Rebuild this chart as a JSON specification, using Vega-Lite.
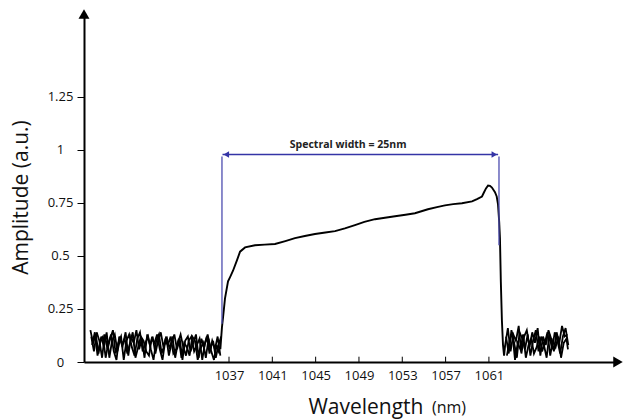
{
  "$schema": "https://vega.github.io/schema/vega-lite/v6.json",
  "width": 534,
  "height": 348,
  "autosize": {"type": "none"},
  "padding": {"left": 84, "top": 14, "right": 6, "bottom": 57},
  "background": "white",
  "config": {"view": {"stroke": null}, "font": "Open Sans"},
  "datasets": {
    "noise": [
      {"x":1024.2,"y":0.15,"t":"a"},{"x":1024.45,"y":0.09,"t":"a"},{"x":1024.7,"y":0.13,"t":"a"},{"x":1024.95,"y":0.04,"t":"a"},{"x":1025.2,"y":0.12,"t":"a"},{"x":1025.45,"y":0.07,"t":"a"},{"x":1025.7,"y":0.14,"t":"a"},{"x":1025.95,"y":0.02,"t":"a"},{"x":1026.2,"y":0.10,"t":"a"},{"x":1026.45,"y":0.13,"t":"a"},{"x":1026.7,"y":0.05,"t":"a"},{"x":1026.95,"y":0.11,"t":"a"},{"x":1027.2,"y":0.08,"t":"a"},{"x":1027.45,"y":0.14,"t":"a"},{"x":1027.7,"y":0.03,"t":"a"},{"x":1027.95,"y":0.12,"t":"a"},{"x":1028.2,"y":0.09,"t":"a"},{"x":1028.45,"y":0.15,"t":"a"},{"x":1028.7,"y":0.06,"t":"a"},{"x":1028.95,"y":0.11,"t":"a"},{"x":1029.2,"y":0.02,"t":"a"},{"x":1029.45,"y":0.13,"t":"a"},{"x":1029.7,"y":0.08,"t":"a"},{"x":1029.95,"y":0.12,"t":"a"},{"x":1030.2,"y":0.04,"t":"a"},{"x":1030.45,"y":0.10,"t":"a"},{"x":1030.7,"y":0.14,"t":"a"},{"x":1030.95,"y":0.07,"t":"a"},{"x":1031.2,"y":0.12,"t":"a"},{"x":1031.45,"y":0.03,"t":"a"},{"x":1031.7,"y":0.09,"t":"a"},{"x":1031.95,"y":0.13,"t":"a"},{"x":1032.2,"y":0.06,"t":"a"},{"x":1032.45,"y":0.11,"t":"a"},{"x":1032.7,"y":0.01,"t":"a"},{"x":1032.95,"y":0.10,"t":"a"},{"x":1033.2,"y":0.12,"t":"a"},{"x":1033.45,"y":0.05,"t":"a"},{"x":1033.7,"y":0.09,"t":"a"},{"x":1033.95,"y":0.13,"t":"a"},{"x":1034.2,"y":0.02,"t":"a"},{"x":1034.45,"y":0.11,"t":"a"},{"x":1034.7,"y":0.07,"t":"a"},{"x":1034.95,"y":0.12,"t":"a"},{"x":1035.2,"y":0.04,"t":"a"},{"x":1035.45,"y":0.10,"t":"a"},{"x":1035.7,"y":0.06,"t":"a"},{"x":1035.95,"y":0.12,"t":"a"},{"x":1036.2,"y":0.03,"t":"a"},
      {"x":1024.28,"y":0.12,"t":"b"},{"x":1024.53,"y":0.05,"t":"b"},{"x":1024.78,"y":0.14,"t":"b"},{"x":1025.03,"y":0.10,"t":"b"},{"x":1025.28,"y":0.02,"t":"b"},{"x":1025.53,"y":0.13,"t":"b"},{"x":1025.78,"y":0.06,"t":"b"},{"x":1026.03,"y":0.11,"t":"b"},{"x":1026.28,"y":0.15,"t":"b"},{"x":1026.53,"y":0.04,"t":"b"},{"x":1026.78,"y":0.09,"t":"b"},{"x":1027.03,"y":0.12,"t":"b"},{"x":1027.28,"y":0.01,"t":"b"},{"x":1027.53,"y":0.10,"t":"b"},{"x":1027.78,"y":0.13,"t":"b"},{"x":1028.03,"y":0.07,"t":"b"},{"x":1028.28,"y":0.03,"t":"b"},{"x":1028.53,"y":0.11,"t":"b"},{"x":1028.78,"y":0.14,"t":"b"},{"x":1029.03,"y":0.05,"t":"b"},{"x":1029.28,"y":0.09,"t":"b"},{"x":1029.53,"y":0.12,"t":"b"},{"x":1029.78,"y":0.06,"t":"b"},{"x":1030.03,"y":0.01,"t":"b"},{"x":1030.28,"y":0.10,"t":"b"},{"x":1030.53,"y":0.13,"t":"b"},{"x":1030.78,"y":0.04,"t":"b"},{"x":1031.03,"y":0.08,"t":"b"},{"x":1031.28,"y":0.11,"t":"b"},{"x":1031.53,"y":0.06,"t":"b"},{"x":1031.78,"y":0.12,"t":"b"},{"x":1032.03,"y":0.02,"t":"b"},{"x":1032.28,"y":0.09,"t":"b"},{"x":1032.53,"y":0.13,"t":"b"},{"x":1032.78,"y":0.07,"t":"b"},{"x":1033.03,"y":0.03,"t":"b"},{"x":1033.28,"y":0.10,"t":"b"},{"x":1033.53,"y":0.12,"t":"b"},{"x":1033.78,"y":0.05,"t":"b"},{"x":1034.03,"y":0.08,"t":"b"},{"x":1034.28,"y":0.11,"t":"b"},{"x":1034.53,"y":0.01,"t":"b"},{"x":1034.78,"y":0.09,"t":"b"},{"x":1035.03,"y":0.13,"t":"b"},{"x":1035.28,"y":0.06,"t":"b"},{"x":1035.53,"y":0.10,"t":"b"},{"x":1035.78,"y":0.02,"t":"b"},{"x":1036.03,"y":0.08,"t":"b"},{"x":1036.28,"y":0.12,"t":"b"},
      {"x":1024.36,"y":0.08,"t":"c"},{"x":1024.61,"y":0.14,"t":"c"},{"x":1024.86,"y":0.03,"t":"c"},{"x":1025.11,"y":0.10,"t":"c"},{"x":1025.36,"y":0.12,"t":"c"},{"x":1025.61,"y":0.02,"t":"c"},{"x":1025.86,"y":0.09,"t":"c"},{"x":1026.11,"y":0.13,"t":"c"},{"x":1026.36,"y":0.05,"t":"c"},{"x":1026.61,"y":0.01,"t":"c"},{"x":1026.86,"y":0.12,"t":"c"},{"x":1027.11,"y":0.08,"t":"c"},{"x":1027.36,"y":0.11,"t":"c"},{"x":1027.61,"y":0.04,"t":"c"},{"x":1027.86,"y":0.09,"t":"c"},{"x":1028.11,"y":0.14,"t":"c"},{"x":1028.36,"y":0.02,"t":"c"},{"x":1028.61,"y":0.07,"t":"c"},{"x":1028.86,"y":0.12,"t":"c"},{"x":1029.11,"y":0.10,"t":"c"},{"x":1029.36,"y":0.05,"t":"c"},{"x":1029.61,"y":0.03,"t":"c"},{"x":1029.86,"y":0.11,"t":"c"},{"x":1030.11,"y":0.09,"t":"c"},{"x":1030.36,"y":0.13,"t":"c"},{"x":1030.61,"y":0.06,"t":"c"},{"x":1030.86,"y":0.01,"t":"c"},{"x":1031.11,"y":0.10,"t":"c"},{"x":1031.36,"y":0.08,"t":"c"},{"x":1031.61,"y":0.12,"t":"c"},{"x":1031.86,"y":0.04,"t":"c"},{"x":1032.11,"y":0.06,"t":"c"},{"x":1032.36,"y":0.11,"t":"c"},{"x":1032.61,"y":0.02,"t":"c"},{"x":1032.86,"y":0.09,"t":"c"},{"x":1033.11,"y":0.07,"t":"c"},{"x":1033.36,"y":0.03,"t":"c"},{"x":1033.61,"y":0.12,"t":"c"},{"x":1033.86,"y":0.10,"t":"c"},{"x":1034.11,"y":0.01,"t":"c"},{"x":1034.36,"y":0.06,"t":"c"},{"x":1034.61,"y":0.09,"t":"c"},{"x":1034.86,"y":0.02,"t":"c"},{"x":1035.11,"y":0.11,"t":"c"},{"x":1035.36,"y":0.05,"t":"c"},{"x":1035.61,"y":0.01,"t":"c"},{"x":1035.86,"y":0.08,"t":"c"},{"x":1036.11,"y":0.04,"t":"c"},
      {"x":1062.5,"y":0.08,"t":"ra"},{"x":1062.75,"y":0.16,"t":"ra"},{"x":1063.0,"y":0.05,"t":"ra"},{"x":1063.25,"y":0.13,"t":"ra"},{"x":1063.5,"y":0.10,"t":"ra"},{"x":1063.75,"y":0.17,"t":"ra"},{"x":1064.0,"y":0.04,"t":"ra"},{"x":1064.25,"y":0.12,"t":"ra"},{"x":1064.5,"y":0.15,"t":"ra"},{"x":1064.75,"y":0.07,"t":"ra"},{"x":1065.0,"y":0.14,"t":"ra"},{"x":1065.25,"y":0.09,"t":"ra"},{"x":1065.5,"y":0.16,"t":"ra"},{"x":1065.75,"y":0.03,"t":"ra"},{"x":1066.0,"y":0.12,"t":"ra"},{"x":1066.25,"y":0.08,"t":"ra"},{"x":1066.5,"y":0.15,"t":"ra"},{"x":1066.75,"y":0.11,"t":"ra"},{"x":1067.0,"y":0.05,"t":"ra"},{"x":1067.25,"y":0.14,"t":"ra"},{"x":1067.5,"y":0.09,"t":"ra"},{"x":1067.75,"y":0.17,"t":"ra"},{"x":1068.0,"y":0.12,"t":"ra"},{"x":1068.25,"y":0.13,"t":"ra"},
      {"x":1062.58,"y":0.12,"t":"rb"},{"x":1062.83,"y":0.04,"t":"rb"},{"x":1063.08,"y":0.15,"t":"rb"},{"x":1063.33,"y":0.09,"t":"rb"},{"x":1063.58,"y":0.02,"t":"rb"},{"x":1063.83,"y":0.14,"t":"rb"},{"x":1064.08,"y":0.11,"t":"rb"},{"x":1064.33,"y":0.06,"t":"rb"},{"x":1064.58,"y":0.13,"t":"rb"},{"x":1064.83,"y":0.03,"t":"rb"},{"x":1065.08,"y":0.10,"t":"rb"},{"x":1065.33,"y":0.15,"t":"rb"},{"x":1065.58,"y":0.05,"t":"rb"},{"x":1065.83,"y":0.12,"t":"rb"},{"x":1066.08,"y":0.08,"t":"rb"},{"x":1066.33,"y":0.02,"t":"rb"},{"x":1066.58,"y":0.13,"t":"rb"},{"x":1066.83,"y":0.06,"t":"rb"},{"x":1067.08,"y":0.14,"t":"rb"},{"x":1067.33,"y":0.10,"t":"rb"},{"x":1067.58,"y":0.04,"t":"rb"},{"x":1067.83,"y":0.12,"t":"rb"},{"x":1068.08,"y":0.16,"t":"rb"},{"x":1068.33,"y":0.08,"t":"rb"},
      {"x":1062.66,"y":0.03,"t":"rc"},{"x":1062.91,"y":0.10,"t":"rc"},{"x":1063.16,"y":0.14,"t":"rc"},{"x":1063.41,"y":0.01,"t":"rc"},{"x":1063.66,"y":0.09,"t":"rc"},{"x":1063.91,"y":0.06,"t":"rc"},{"x":1064.16,"y":0.13,"t":"rc"},{"x":1064.41,"y":0.02,"t":"rc"},{"x":1064.66,"y":0.08,"t":"rc"},{"x":1064.91,"y":0.11,"t":"rc"},{"x":1065.16,"y":0.04,"t":"rc"},{"x":1065.41,"y":0.07,"t":"rc"},{"x":1065.66,"y":0.12,"t":"rc"},{"x":1065.91,"y":0.05,"t":"rc"},{"x":1066.16,"y":0.09,"t":"rc"},{"x":1066.41,"y":0.14,"t":"rc"},{"x":1066.66,"y":0.03,"t":"rc"},{"x":1066.91,"y":0.10,"t":"rc"},{"x":1067.16,"y":0.07,"t":"rc"},{"x":1067.41,"y":0.12,"t":"rc"},{"x":1067.66,"y":0.02,"t":"rc"},{"x":1067.91,"y":0.09,"t":"rc"},{"x":1068.16,"y":0.11,"t":"rc"},{"x":1068.3,"y":0.06,"t":"rc"}
    ],
    "main": [
      {"x":1036.2,"y":0.06},{"x":1036.35,"y":0.164},{"x":1036.45,"y":0.21},{"x":1036.55,"y":0.26},{"x":1036.63,"y":0.30},{"x":1036.91,"y":0.38},{"x":1037.1,"y":0.40},{"x":1037.37,"y":0.43},{"x":1037.74,"y":0.48},{"x":1038.02,"y":0.52},{"x":1038.48,"y":0.54},{"x":1039.4,"y":0.55},{"x":1040.3,"y":0.553},{"x":1041.25,"y":0.556},{"x":1042.2,"y":0.57},{"x":1043.09,"y":0.584},{"x":1044.0,"y":0.594},{"x":1044.94,"y":0.603},{"x":1045.9,"y":0.61},{"x":1046.79,"y":0.617},{"x":1047.7,"y":0.63},{"x":1048.63,"y":0.645},{"x":1049.5,"y":0.66},{"x":1050.48,"y":0.673},{"x":1051.4,"y":0.68},{"x":1052.33,"y":0.687},{"x":1053.3,"y":0.694},{"x":1054.17,"y":0.701},{"x":1055.37,"y":0.72},{"x":1056.2,"y":0.73},{"x":1056.94,"y":0.738},{"x":1057.7,"y":0.744},{"x":1058.51,"y":0.748},{"x":1059.44,"y":0.757},{"x":1059.9,"y":0.768},{"x":1060.36,"y":0.78},{"x":1060.55,"y":0.80},{"x":1060.73,"y":0.818},{"x":1060.92,"y":0.832},{"x":1061.1,"y":0.83},{"x":1061.28,"y":0.822},{"x":1061.56,"y":0.80},{"x":1061.72,"y":0.78},{"x":1061.84,"y":0.743},{"x":1061.95,"y":0.66},{"x":1062.02,"y":0.584},{"x":1062.1,"y":0.38},{"x":1062.2,"y":0.196},{"x":1062.3,"y":0.08},{"x":1062.4,"y":0.03},{"x":1062.5,"y":0.08}
    ],
    "xticks": [{"x":1037},{"x":1041},{"x":1045},{"x":1049},{"x":1053},{"x":1057},{"x":1061}],
    "vlines": [{"x":1036.35,"y":0.18,"y2":0.968},{"x":1061.93,"y":0.55,"y2":0.968}],
    "span": [{"x":1036.4,"x2":1061.85,"y":0.978}],
    "heads": [{"x":1036.75,"y":0.978,"s":"triangle-left"},{"x":1061.5,"y":0.978,"s":"triangle-right"}],
    "note": [{"x":1048.0,"y":1.024,"label":"Spectral width = 25nm"}],
    "unit": [{"x":1055.74,"y":-0.24,"label":"(nm)"}],
    "arrows": [{"x":1023.61,"y":1.64,"s":"triangle-up"},{"x":1072.92,"y":0,"s":"triangle-right"}]
  },
  "layer": [
    {
      "data": {"name": "noise"},
      "mark": {"type": "line", "color": "black", "strokeWidth": 1.8},
      "encoding": {
        "x": {"field": "x", "type": "quantitative", "scale": {"domain": [1023.61, 1072.92], "nice": false, "zero": false},
          "axis": {"values": [1037,1041,1045,1049,1053,1057,1061], "format": "d", "grid": false, "tickSize": 0,
            "domainColor": "black", "domainWidth": 2, "labelFont": "Open Sans", "labelFontSize": 13, "labelColor": "#111",
            "labelPadding": 7, "labelFlush": false, "labelOverlap": false,
            "title": "Wavelength", "titleFont": "Open Sans", "titleFontSize": 21, "titleFontWeight": "normal", "titleColor": "#111",
            "titleX": 339, "titleY": 51, "titleAlign": "right", "titleBaseline": "alphabetic"}},
        "y": {"field": "y", "type": "quantitative", "scale": {"domain": [0, 1.64], "nice": false, "zero": false},
          "axis": {"values": [0,0.25,0.5,0.75,1,1.25], "labelExpr": "'' + datum.value", "grid": false, "tickSize": 7, "tickColor": "black", "tickWidth": 1,
            "domainColor": "black", "domainWidth": 2, "labelFont": "Open Sans", "labelFontSize": 13, "labelColor": "#111",
            "labelAlign": "center", "labelPadding": 17, "labelFlush": false, "labelOverlap": false,
            "title": "Amplitude (a.u.)", "titleFont": "Open Sans", "titleFontSize": 21, "titleFontWeight": "normal", "titleColor": "#111",
            "titleX": -63, "titleY": 183, "titleAlign": "center", "titleBaseline": "middle"}},
        "detail": {"field": "t"}
      }
    },
    {
      "data": {"name": "main"},
      "mark": {"type": "line", "color": "black", "strokeWidth": 1.9},
      "encoding": {
        "x": {"field": "x", "type": "quantitative"},
        "y": {"field": "y", "type": "quantitative"}
      }
    },
    {
      "data": {"name": "xticks"},
      "mark": {"type": "rule", "color": "black", "strokeWidth": 1},
      "encoding": {
        "x": {"field": "x", "type": "quantitative"},
        "y": {"datum": 0, "type": "quantitative"},
        "y2": {"datum": 0.025}
      }
    },
    {
      "data": {"name": "vlines"},
      "mark": {"type": "rule", "color": "#4d4db0", "strokeWidth": 1.3},
      "encoding": {
        "x": {"field": "x", "type": "quantitative"},
        "y": {"field": "y", "type": "quantitative"},
        "y2": {"field": "y2"}
      }
    },
    {
      "data": {"name": "span"},
      "mark": {"type": "rule", "color": "#3434a6", "strokeWidth": 1.4},
      "encoding": {
        "x": {"field": "x", "type": "quantitative"},
        "x2": {"field": "x2"},
        "y": {"field": "y", "type": "quantitative"}
      }
    },
    {
      "data": {"name": "heads"},
      "mark": {"type": "point", "filled": true, "color": "#3434a6", "size": 40, "opacity": 1},
      "encoding": {
        "x": {"field": "x", "type": "quantitative"},
        "y": {"field": "y", "type": "quantitative"},
        "shape": {"field": "s", "type": "nominal", "scale": null, "legend": null}
      }
    },
    {
      "data": {"name": "note"},
      "mark": {"type": "text", "font": "Open Sans", "fontSize": 10.5, "fontWeight": "bold", "color": "#222", "align": "center", "baseline": "middle"},
      "encoding": {
        "x": {"field": "x", "type": "quantitative"},
        "y": {"field": "y", "type": "quantitative"},
        "text": {"field": "label"}
      }
    },
    {
      "data": {"name": "unit"},
      "mark": {"type": "text", "font": "Open Sans", "fontSize": 16, "color": "#111", "align": "left", "baseline": "alphabetic"},
      "encoding": {
        "x": {"field": "x", "type": "quantitative"},
        "y": {"field": "y", "type": "quantitative"},
        "text": {"field": "label"}
      }
    },
    {
      "data": {"name": "arrows"},
      "mark": {"type": "point", "filled": true, "color": "black", "size": 120, "opacity": 1},
      "encoding": {
        "x": {"field": "x", "type": "quantitative"},
        "y": {"field": "y", "type": "quantitative"},
        "shape": {"field": "s", "type": "nominal", "scale": null, "legend": null}
      }
    }
  ]
}
